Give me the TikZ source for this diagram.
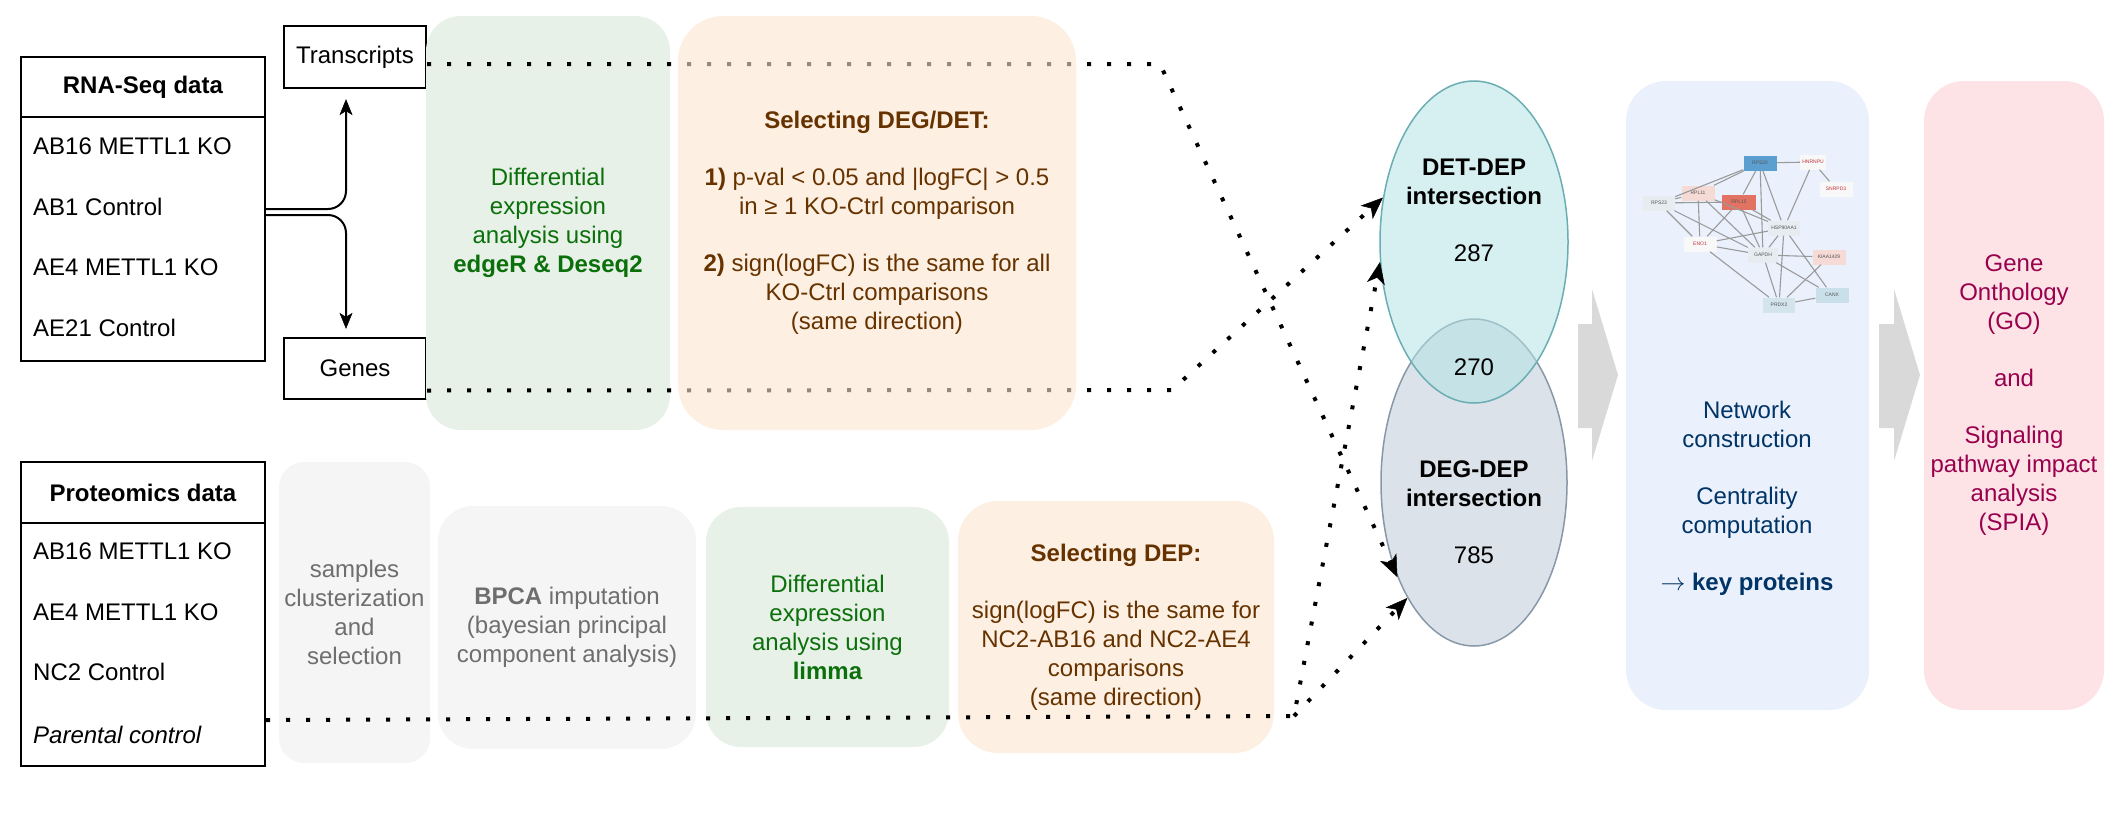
\documentclass[tikz,border=0pt]{standalone}
\usepackage{fontspec}
\setmainfont{Liberation Sans}
\usetikzlibrary{arrows.meta,shapes.geometric}
\definecolor{greenfill}{HTML}{E7F1E7}
\definecolor{orangefill}{HTML}{FCE4CD}
\definecolor{orangefillB}{HTML}{FDEFE1}
\definecolor{grayfill}{HTML}{F5F5F5}
\definecolor{bluefill}{HTML}{EAF1FC}
\definecolor{pinkfill}{HTML}{FDE3E6}
\definecolor{greentext}{HTML}{0B700B}
\definecolor{browntext}{HTML}{663300}
\definecolor{graytext}{HTML}{6E6E6E}
\definecolor{navytext}{HTML}{003366}
\definecolor{pinktext}{HTML}{99004D}
\definecolor{detfill}{HTML}{B4E2E4}
\definecolor{detline}{HTML}{6AAEB3}
\definecolor{degfill}{HTML}{DBE2EA}
\definecolor{degline}{HTML}{8898A8}
\definecolor{blockgray}{HTML}{D9D9D9}
\definecolor{netedge}{HTML}{9A9A9A}
\definecolor{netlabel}{HTML}{555555}
\definecolor{netred}{HTML}{C0303A}
\definecolor{cRPS}{HTML}{5B9FD0}
\definecolor{cRPL}{HTML}{E27363}
\definecolor{cpink}{HTML}{F6DAD6}
\definecolor{cgray}{HTML}{E6ECEF}
\definecolor{cwhite}{HTML}{F8F8F8}
\definecolor{cblue}{HTML}{C9DFEA}
\definecolor{cblueB}{HTML}{D3E4EC}
\tikzset{
  panel/.style={rectangle, inner sep=0pt, align=center},
  plainbox/.style={rectangle, draw=black, line width=2.3pt, inner sep=0pt, align=center},
  rowtext/.style={anchor=west, inner sep=0pt},
  dotline/.style={line width=4pt, dash pattern=on 4pt off 16pt, line cap=butt,
    -{Stealth[length=22pt,width=18pt,inset=6pt,line width=0.5pt]}},
  solidarr/.style={line width=2pt, -{Stealth[length=16pt,width=13pt,inset=4pt,line width=0.5pt]}},
  netnode/.style={rectangle, inner sep=0pt, minimum height=15pt, minimum width=33pt,
    font=\fontsize{5}{6}\selectfont, text=netlabel},
  netline/.style={draw=netedge, line width=1.1pt},
  blockarrow/.style={fill=blockgray}
}
\begin{document}
\begin{tikzpicture}[x=1pt,y=-1pt,font=\fontsize{24}{29}\selectfont]
\useasboundingbox (0,0) rectangle (2128,815);

% ---------- RNA-Seq table ----------
\node[plainbox, minimum width=244pt, minimum height=60pt] (rnahead) at (143,87) {\textbf{RNA-Seq data}};
\node[plainbox, minimum width=244pt, minimum height=244pt] (rnabody) at (143,239) {};
\node[rowtext] (r1) at (33,146) {AB16 METTL1 KO};
\node[rowtext] (r2) at (33,207) {AB1 Control};
\node[rowtext] (r3) at (33,267) {AE4 METTL1 KO};
\node[rowtext] (r4) at (33,328) {AE21 Control};

% ---------- Proteomics table ----------
\node[plainbox, minimum width=244pt, minimum height=61pt] (prohead) at (143,492.5) {\textbf{Proteomics data}};
\node[plainbox, minimum width=244pt, minimum height=243pt] (probody) at (143,644.5) {};
\node[rowtext] (q1) at (33,551) {AB16 METTL1 KO};
\node[rowtext] (q2) at (33,612) {AE4 METTL1 KO};
\node[rowtext] (q3) at (33,672) {NC2 Control};
\node[rowtext] (q4) at (33,735) {\itshape Parental control};

% ---------- Transcripts / Genes ----------
\node[plainbox, minimum width=142pt, minimum height=62pt] (tr) at (355,57) {Transcripts};
\node[plainbox, minimum width=142pt, minimum height=61pt] (gn) at (355,368.5) {Genes};

\draw[solidarr, rounded corners=18pt, shorten >=10pt] ([yshift=30pt]rnabody.east) -| ([xshift=-9pt]tr.south);
\draw[solidarr, rounded corners=18pt, shorten >=8pt] ([yshift=24pt]rnabody.east) -| ([xshift=-9pt]gn.north);

% ---------- process panels ----------
\node[panel, fill=greenfill, rounded corners=35pt, minimum width=244pt, minimum height=414pt, text=greentext] (green1) at (548,223)
  {Differential\\expression\\analysis using\\\textbf{edgeR \& Deseq2}};
\node[panel, fill=grayfill, rounded corners=25pt, minimum width=151pt, minimum height=301pt, text=graytext] (gray1) at (354.5,612.5)
  {samples\\clusterization\\and\\selection};
\node[panel, fill=grayfill, rounded corners=35pt, minimum width=258pt, minimum height=243pt, text=graytext] (gray2) at (567,627.5)
  {\textbf{BPCA} imputation\\(bayesian principal\\component analysis)};
\node[panel, fill=greenfill, rounded corners=35pt, minimum width=243pt, minimum height=240pt, text=greentext] (green2) at (827.5,627)
  {Differential\\expression\\analysis using\\\textbf{limma}};
\node[panel, fill=orangefillB, rounded corners=40pt, minimum width=316pt, minimum height=252pt, text=browntext] (orange2) at (1116,627)
  {\textbf{Selecting DEP:}\\[28pt]sign(logFC) is the same for\\NC2-AB16 and NC2-AE4\\comparisons\\(same direction)};

% ---------- ellipses ----------
\node[ellipse, draw=degline, line width=1.5pt, fill=degfill, minimum width=186pt, minimum height=327pt, inner sep=0pt] (deg) at (1474,482.5) {};
\node[ellipse, draw=detline, line width=1.5pt, fill=detfill, fill opacity=0.55, draw opacity=1, minimum width=188pt, minimum height=322pt, inner sep=0pt] (det) at (1474,242) {};
\node[align=center] (dettext) at (1474,210.5) {\textbf{DET-DEP}\\\textbf{intersection}\\[28pt]287};
\node (n270) at (1474,367) {270};
\node[align=center] (degtext) at (1474,512) {\textbf{DEG-DEP}\\\textbf{intersection}\\[28pt]785};

% ---------- dotted connectors ----------
\coordinate (tbend) at (1160,64);
\coordinate (gbend) at (1172,390);
\coordinate (pbend) at (1294,716);
\draw[dotline] ([yshift=-7pt]tr.east) -- (tbend) -- (deg.231);
\draw[dotline] ([yshift=-22pt]gn.east) -- (gbend) -- (det.154);
\draw[dotline] ([yshift=-75.5pt]probody.east) -- (pbend) -- (det.192);
\draw[dotline] (pbend) -- (deg.240);

% orange panel drawn over the dotted lines (semi-transparent)
\node[panel, fill=orangefill, fill opacity=0.6, text opacity=1, rounded corners=45pt, minimum width=398pt, minimum height=414pt, text=browntext] (orange1) at (877,223)
  {\textbf{Selecting DEG/DET:}\\[28pt]\textbf{1)} p-val < 0.05 and |logFC| > 0.5\\in ≥ 1 KO-Ctrl comparison\\[28pt]\textbf{2)} sign(logFC) is the same for all\\KO-Ctrl comparisons\\(same direction)};

% ---------- block arrows ----------
\fill[blockarrow] (1578,324) -- (1592,324) -- (1592,289) -- (1618,375) -- (1592,461) -- (1592,428) -- (1578,428) -- cycle;
\fill[blockarrow] (1879,324) -- (1894,324) -- (1894,289) -- (1920,375) -- (1894,461) -- (1894,428) -- (1879,428) -- cycle;

% ---------- right panels ----------
\node[panel, fill=bluefill, rounded corners=40pt, minimum width=243pt, minimum height=629pt] (blue) at (1747.5,395.5) {};
\node[panel, fill=pinkfill, rounded corners=40pt, minimum width=180pt, minimum height=629pt, text=pinktext] (pink) at (2014,395.5)
  {Gene\\Onthology\\(GO)\\[28pt]and\\[28pt]Signaling\\pathway impact\\analysis\\(SPIA)};
\node[align=center, text=navytext] (bluetext) at (1747,498)
  {Network\\construction\\[28pt]Centrality\\computation\\[28pt]$\rightarrow$ \textbf{key proteins}};

% ---------- network inset ----------
\node[netnode, fill=cRPS] (RPSa) at (1760,163) {RPS20};
\node[netnode, fill=cwhite, text=netred, minimum width=26pt] (HNR) at (1813,162) {HNRNPU};
\node[netnode, fill=cwhite, text=netred] (SNR) at (1836,189) {SNRPD3};
\node[netnode, fill=cpink] (RPLa) at (1698,193) {RPL11};
\node[netnode, fill=cgray, minimum width=32pt] (RPSb) at (1659,203) {RPS23};
\node[netnode, fill=cRPL, minimum width=34pt] (RPLb) at (1739,202) {RPL15};
\node[netnode, fill=cgray, minimum width=32pt] (HSP) at (1784,228) {HSP90AA1};
\node[netnode, fill=cwhite, text=netred] (ENO) at (1700,244) {ENO1};
\node[netnode, fill=cgray, minimum width=30pt] (GAP) at (1763,255) {GAPDH};
\node[netnode, fill=cpink] (KIA) at (1829,257) {KIAA1429};
\node[netnode, fill=cblue] (CAN) at (1832,295) {CANX};
\node[netnode, fill=cblueB, minimum width=32pt] (PRD) at (1779,305) {PRDX2};
\foreach \a/\b in {RPSa/HNR, HNR/SNR, HNR/HSP, RPSa/RPSb, RPSa/RPLa, RPSa/RPLb, RPSa/HSP, RPSa/GAP,
  RPSb/RPLa, RPSb/RPLb, RPSb/ENO, RPSb/GAP, RPLa/ENO, RPLa/GAP, RPLa/HSP, RPLb/ENO, RPLb/GAP, RPLb/HSP,
  ENO/HSP, ENO/GAP, ENO/PRD, GAP/KIA, GAP/PRD, GAP/CAN, HSP/GAP, HSP/PRD, HSP/CAN, KIA/PRD, PRD/CAN}
  \draw[netline] (\a) -- (\b);
\end{tikzpicture}
\end{document}
